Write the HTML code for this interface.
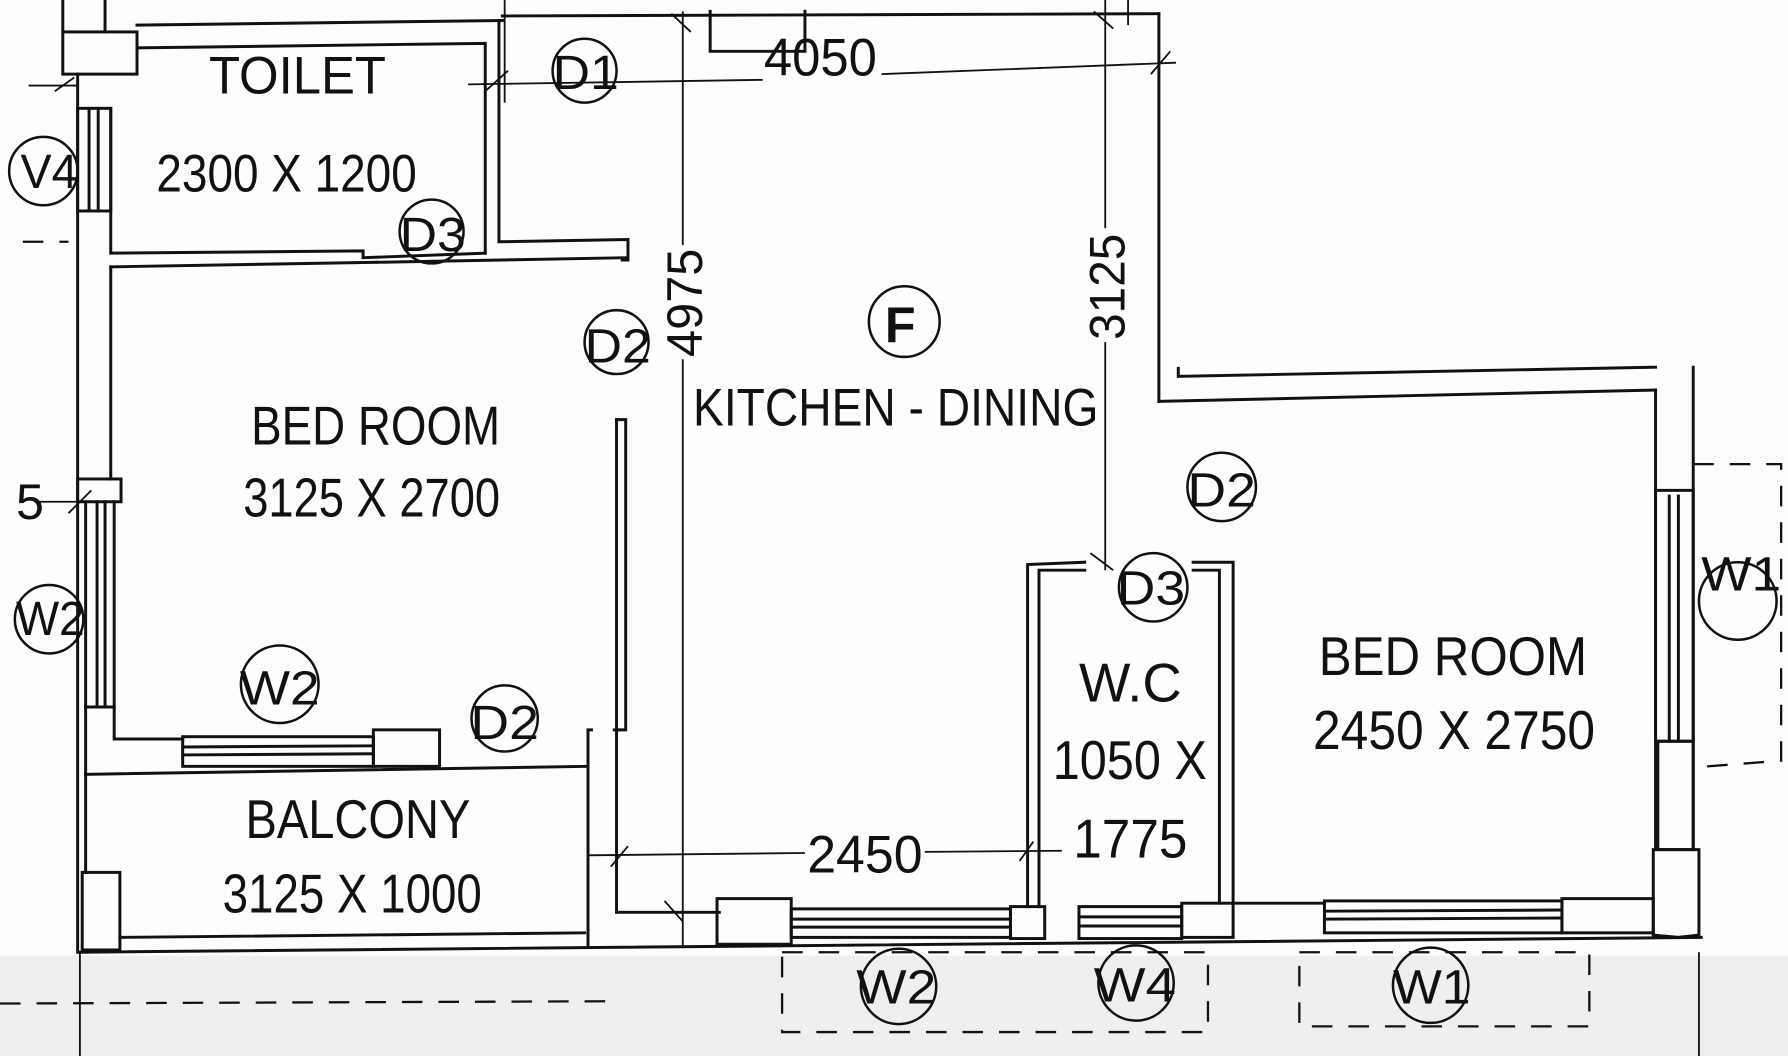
<!DOCTYPE html>
<html><head><meta charset="utf-8"><style>
html,body{margin:0;padding:0;background:#fff;}
svg{display:block;}
text{font-family:"Liberation Sans",sans-serif;fill:#111;}
</style></head><body>
<svg width="1788" height="1056" viewBox="0 0 1566 926" preserveAspectRatio="none" xmlns="http://www.w3.org/2000/svg">
<rect x="0" y="0" width="1566" height="926" fill="#fdfdfd"/>
<rect x="0" y="838" width="1566" height="88" fill="#efefef"/>
<g stroke="#111" stroke-width="2.6" fill="none" stroke-linecap="square">
<line x1="55" y1="0" x2="55" y2="28"/><line x1="92" y1="0" x2="92" y2="28"/>
<rect x="55" y="28" width="65" height="37"/>
<line x1="120" y1="22" x2="440" y2="18"/>
<polyline points="120,42 425,38 425,222"/>
<polyline points="437,18 437,212 550,210 550,228 545,228"/>
<polyline points="97,95 97,222 318,220 318,226 425,222"/>
<line x1="97" y1="234" x2="330" y2="230"/>
<line x1="330" y1="230" x2="548" y2="226"/>
<line x1="68" y1="65" x2="68" y2="835"/>
<line x1="97" y1="234" x2="97" y2="420"/>
<rect x="68" y="95" width="29" height="90"/>
<line x1="78" y1="95" x2="78" y2="185"/><line x1="86" y1="95" x2="86" y2="185"/>
<rect x="68" y="420" width="38" height="20"/>
<line x1="75" y1="440" x2="75" y2="620"/><line x1="100" y1="440" x2="100" y2="620"/>
<line x1="85" y1="440" x2="85" y2="620"/><line x1="92" y1="440" x2="92" y2="620"/>
<polyline points="75,620 100,620 100,648 160,648"/>
<line x1="75" y1="620" x2="75" y2="765"/>
<rect x="160" y="646" width="167" height="26"/>
<line x1="160" y1="655" x2="327" y2="654"/><line x1="160" y1="662" x2="327" y2="661"/>
<rect x="327" y="640" width="58" height="32"/>
<line x1="75" y1="679" x2="515" y2="672"/>
<rect x="72" y="765" width="33" height="68"/>
<line x1="105" y1="822" x2="512" y2="818"/>
<line x1="70" y1="835" x2="1490" y2="822"/>
<polyline points="540,368 548,368 548,640 538,640"/>
<line x1="540" y1="368" x2="540" y2="800"/>
<polyline points="518,640 515,640 515,830"/>
<line x1="540" y1="800" x2="630" y2="800"/>
<rect x="628" y="788" width="65" height="40"/>
<rect x="693" y="797" width="192" height="25"/>
<line x1="693" y1="806" x2="885" y2="806"/><line x1="693" y1="813" x2="885" y2="813"/>
<rect x="885" y="795" width="30" height="28"/>
<rect x="945" y="795" width="90" height="28"/>
<line x1="945" y1="804" x2="1035" y2="804"/><line x1="945" y1="812" x2="1035" y2="812"/>
<rect x="1035" y="792" width="45" height="30"/>
<polyline points="950,493 900,495 900,795"/>
<polyline points="950,500 910,500 910,795"/>
<polyline points="1045,493 1080,493 1080,792"/>
<polyline points="1045,500 1068,500 1068,792"/>
<line x1="440" y1="14" x2="1015" y2="12"/>
<polyline points="622,10 622,45 705,45 705,10"/>
<line x1="1015" y1="12" x2="1015" y2="352"/>
<line x1="1015" y1="352" x2="1450" y2="342"/>
<polyline points="1032,323 1032,330 1450,322"/>
<line x1="1450" y1="342" x2="1450" y2="745"/>
<line x1="1483" y1="322" x2="1483" y2="745"/>
<rect x="1450" y="430" width="33" height="220"/>
<line x1="1462" y1="435" x2="1462" y2="650"/><line x1="1470" y1="435" x2="1470" y2="650"/>
<rect x="1452" y="650" width="31" height="95"/>
<polyline points="1448,745 1488,745 1488,820 1470,822 1448,820 1448,745"/>
<polyline points="1080,792 1160,792"/>
<rect x="1160" y="790" width="208" height="28"/>
<line x1="1160" y1="799" x2="1368" y2="798"/><line x1="1160" y1="806" x2="1368" y2="805"/>
<rect x="1368" y="788" width="80" height="30"/>
</g>
<g stroke="#111" stroke-width="1.6" fill="none">
<line x1="598" y1="10" x2="598" y2="215"/><line x1="598" y1="315" x2="598" y2="830"/>
<line x1="968" y1="0" x2="968" y2="200"/><line x1="968" y1="300" x2="968" y2="500"/>
<line x1="25" y1="75" x2="68" y2="75"/><line x1="410" y1="74" x2="668" y2="70"/><line x1="772" y1="65" x2="1030" y2="55"/>
<line x1="515" y1="750" x2="705" y2="748"/><line x1="810" y1="747" x2="930" y2="746"/>
<line x1="30" y1="440" x2="75" y2="440"/>
<line x1="442" y1="0" x2="442" y2="90"/><line x1="988" y1="0" x2="988" y2="22"/>
<line x1="425" y1="80" x2="445" y2="62"/><line x1="1008" y1="65" x2="1025" y2="45"/>
<line x1="958" y1="10" x2="975" y2="25"/><line x1="588" y1="12" x2="605" y2="28"/>
<line x1="535" y1="760" x2="550" y2="742"/><line x1="582" y1="790" x2="598" y2="808"/>
<line x1="893" y1="755" x2="905" y2="738"/><line x1="955" y1="485" x2="975" y2="500"/>
<line x1="60" y1="450" x2="80" y2="430"/><line x1="48" y1="80" x2="65" y2="68"/>
<line x1="1488" y1="835" x2="1488" y2="926"/><line x1="70" y1="835" x2="70" y2="926"/>
</g>
<g stroke="#111" stroke-width="2" fill="none" stroke-dasharray="18,14">
<line x1="0" y1="880" x2="530" y2="878"/>
<rect x="685" y="835" width="373" height="70"/>
<rect x="1138" y="835" width="254" height="65"/>
<polyline points="1483,407 1560,407 1560,667 1483,673"/>
<line x1="20" y1="212" x2="60" y2="212"/>
</g>
<g stroke="#111" stroke-width="2.2" fill="none">
<circle cx="512" cy="62" r="28"/>
<circle cx="38" cy="150" r="30"/>
<circle cx="378" cy="203" r="28"/>
<circle cx="540" cy="300" r="28"/>
<circle cx="792" cy="282" r="31"/>
<circle cx="1070" cy="427" r="30"/>
<circle cx="1010" cy="515" r="30"/>
<circle cx="1522" cy="527" r="34"/>
<circle cx="43" cy="543" r="30"/>
<circle cx="245" cy="600" r="34"/>
<circle cx="442" cy="630" r="29"/>
<circle cx="787" cy="865" r="33"/>
<circle cx="995" cy="862" r="33"/>
<circle cx="1253" cy="864" r="33"/>
</g>
<g font-size="44" lengthAdjust="spacingAndGlyphs">
<text x="183" y="82" font-size="46" textLength="155" lengthAdjust="spacingAndGlyphs">TOILET</text>
<text x="137" y="168" font-size="46" textLength="228" lengthAdjust="spacingAndGlyphs">2300 X 1200</text>
<text x="350" y="220" font-size="42" textLength="58" lengthAdjust="spacingAndGlyphs">D3</text>
<text x="484" y="78" font-size="42" textLength="58" lengthAdjust="spacingAndGlyphs">D1</text>
<text x="18" y="165" font-size="42" textLength="50" lengthAdjust="spacingAndGlyphs">V4</text>
<text x="669" y="66" font-size="46" textLength="99" lengthAdjust="spacingAndGlyphs">4050</text>
<text x="220" y="390" font-size="48" textLength="218" lengthAdjust="spacingAndGlyphs">BED ROOM</text>
<text x="213" y="453" font-size="48" textLength="225" lengthAdjust="spacingAndGlyphs">3125 X 2700</text>
<text x="512" y="318" font-size="42" textLength="58" lengthAdjust="spacingAndGlyphs">D2</text>
<text x="775" y="300" font-size="44" font-weight="bold">F</text>
<text x="607" y="373" font-size="46" textLength="355" lengthAdjust="spacingAndGlyphs">KITCHEN - DINING</text>
<text transform="translate(615,313) rotate(-90)" font-size="44" textLength="95" lengthAdjust="spacingAndGlyphs">4975</text>
<text transform="translate(985,298) rotate(-90)" font-size="44" textLength="93" lengthAdjust="spacingAndGlyphs">3125</text>
<text x="1040" y="444" font-size="42" textLength="60" lengthAdjust="spacingAndGlyphs">D2</text>
<text x="978" y="530" font-size="42" textLength="60" lengthAdjust="spacingAndGlyphs">D3</text>
<text x="945" y="615" font-size="48" textLength="90" lengthAdjust="spacingAndGlyphs">W.C</text>
<text x="922" y="683" font-size="48" textLength="135" lengthAdjust="spacingAndGlyphs">1050 X</text>
<text x="940" y="752" font-size="48" textLength="100" lengthAdjust="spacingAndGlyphs">1775</text>
<text x="1155" y="592" font-size="48" textLength="235" lengthAdjust="spacingAndGlyphs">BED ROOM</text>
<text x="1150" y="657" font-size="48" textLength="247" lengthAdjust="spacingAndGlyphs">2450 X 2750</text>
<text x="1490" y="518" font-size="42" textLength="70" lengthAdjust="spacingAndGlyphs">W1</text>
<text x="14" y="455" font-size="44">5</text>
<text x="14" y="557" font-size="42" textLength="60" lengthAdjust="spacingAndGlyphs">W2</text>
<text x="210" y="618" font-size="42" textLength="70" lengthAdjust="spacingAndGlyphs">W2</text>
<text x="412" y="648" font-size="42" textLength="60" lengthAdjust="spacingAndGlyphs">D2</text>
<text x="215" y="735" font-size="48" textLength="197" lengthAdjust="spacingAndGlyphs">BALCONY</text>
<text x="195" y="800" font-size="48" textLength="227" lengthAdjust="spacingAndGlyphs">3125 X 1000</text>
<text x="707" y="765" font-size="46" textLength="101" lengthAdjust="spacingAndGlyphs">2450</text>
<text x="750" y="880" font-size="42" textLength="70" lengthAdjust="spacingAndGlyphs">W2</text>
<text x="958" y="878" font-size="42" textLength="72" lengthAdjust="spacingAndGlyphs">W4</text>
<text x="1220" y="880" font-size="42" textLength="68" lengthAdjust="spacingAndGlyphs">W1</text>
</g>
</svg>
</body></html>
